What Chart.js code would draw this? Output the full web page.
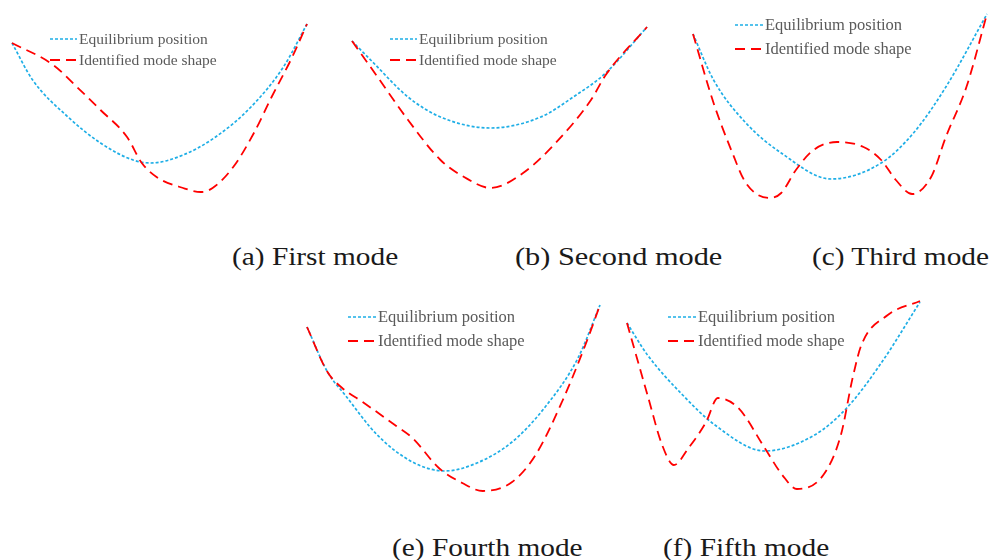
<!DOCTYPE html>
<html>
<head>
<meta charset="utf-8">
<script src="https://cdn.jsdelivr.net/npm/chart.js@4/dist/chart.umd.min.js"></script>
<style>
  html, body { margin:0; padding:0; background:#fff; width:989px; height:560px; overflow:hidden; }
  .panel { position:absolute; }
  .cap { position:absolute; font-family:"Liberation Serif","Times New Roman",serif; font-size:25.5px; color:#1a1a1a; white-space:nowrap; line-height:30px; transform-origin:0 50%; transform:scaleX(1.15); }
</style>
</head>
<body>
<canvas id="pa" class="panel" width="305" height="230" style="left:7px;top:0px"></canvas>
<canvas id="pb" class="panel" width="305" height="230" style="left:347px;top:0px"></canvas>
<canvas id="pc" class="panel" width="304" height="230" style="left:688px;top:0px"></canvas>
<canvas id="pe" class="panel" width="303" height="220" style="left:302px;top:290px"></canvas>
<canvas id="pf" class="panel" width="303" height="220" style="left:622px;top:290px"></canvas>
<div class="cap" id="ca" style="left:232px;top:242px"></div>
<div class="cap" id="cb" style="left:515px;top:242px;transform:scaleX(1.19)"></div>
<div class="cap" id="cc" style="left:812px;top:242px"></div>
<div class="cap" id="ce" style="left:392px;top:533px"></div>
<div class="cap" id="cf" style="left:663px;top:533px"></div>
<script>
// ---- Data (x: % of span, y: vertical position relative to right support) ----
const seriesLabels = ['Equilibrium position', 'Identified mode shape'];
const captions = ['(a) First mode', '(b) Second mode', '(c) Third mode', '(e) Fourth mode', '(f) Fifth mode'];

const aEqX   = [0, 7, 19, 30, 41, 47, 58, 69, 81, 92, 100];
const aEqY   = [-0.19, -0.56, -0.93, -1.19, -1.36, -1.39, -1.31, -1.13, -0.83, -0.43, 0];
const aModeX = [0, 14, 22, 30, 39, 44, 49, 58, 64, 68, 75, 82, 88, 95, 100];
const aModeY = [-0.19, -0.41, -0.63, -0.86, -1.13, -1.39, -1.53, -1.64, -1.68, -1.64, -1.43, -1.09, -0.73, -0.33, 0];

const bEqX   = [0, 7, 19, 30, 47, 64, 75, 86, 100];
const bEqY   = [-0.14, -0.35, -0.70, -0.90, -1.01, -0.90, -0.70, -0.46, 0];
const bModeX = [0, 7, 19, 30, 38, 47, 58, 69, 81, 86, 100];
const bModeY = [-0.14, -0.43, -0.93, -1.33, -1.50, -1.61, -1.46, -1.16, -0.73, -0.48, 0];

const cEqX   = [0, 7, 18, 30, 47, 64, 75, 86, 100];
const cEqY   = [-0.20, -0.66, -1.09, -1.39, -1.65, -1.49, -1.19, -0.73, 0];
const cModeX = [0, 7, 13, 18, 26, 30, 35, 41, 49, 58, 64, 69, 74.5, 81, 86, 93, 100];
const cModeY = [-0.20, -0.89, -1.36, -1.69, -1.84, -1.79, -1.56, -1.36, -1.28, -1.33, -1.46, -1.66, -1.80, -1.63, -1.23, -0.73, 0];

const eEqX   = [0, 7, 13, 24, 36, 47, 58, 70, 81, 92.5, 100];
const eEqY   = [-0.22, -0.67, -0.90, -1.30, -1.57, -1.66, -1.58, -1.37, -1.03, -0.53, 0];
const eModeX = [0, 7, 12, 19, 30, 36, 45, 53, 60, 70, 78, 87, 95, 100];
const eModeY = [-0.22, -0.67, -0.83, -0.97, -1.20, -1.33, -1.63, -1.78, -1.86, -1.77, -1.50, -0.97, -0.40, 0];

const fEqX   = [0, 7, 19, 30, 47, 64, 75, 87, 100];
const fEqY   = [-0.21, -0.53, -0.93, -1.23, -1.49, -1.33, -1.06, -0.60, 0];
const fModeX = [0, 7, 12, 16, 21, 27, 31, 38, 47, 53, 58, 67, 73, 77, 80, 89, 100];
const fModeY = [-0.21, -0.93, -1.43, -1.63, -1.46, -1.20, -0.96, -1.06, -1.46, -1.73, -1.87, -1.73, -1.33, -0.76, -0.43, -0.13, 0.01];

// ---- Styling ----
const EQ_COLOR = '#1eaee6';
const MODE_COLOR = '#ff0000';

const lineLegend = {
  id: 'lineLegend',
  afterDatasetsDraw(chart, args, o) {
    const ctx = chart.ctx;
    ctx.save();
    chart.data.datasets.forEach((ds, i) => {
      const y = o.y + i * o.gap;
      ctx.strokeStyle = ds.borderColor;
      ctx.lineWidth = ds.borderWidth;
      ctx.setLineDash(ds.borderDash || []);
      ctx.beginPath();
      ctx.moveTo(o.x, y);
      ctx.lineTo(o.x + o.len, y);
      ctx.stroke();
      ctx.setLineDash([]);
      ctx.fillStyle = '#5a5a5a';
      ctx.font = o.size + 'px "Liberation Serif", "Times New Roman", serif';
      ctx.textBaseline = 'middle';
      ctx.textAlign = 'left';
      ctx.fillText(ds.label, o.x + o.len + 2, y + 1);
    });
    ctx.restore();
  }
};

function pts(xs, ys) { return xs.map((x, i) => ({ x: x, y: ys[i] })); }

function makePanel(id, eqX, eqY, mX, mY, yMin, yMax, leg) {
  new Chart(document.getElementById(id), {
    type: 'line',
    data: {
      datasets: [
        { label: seriesLabels[0], data: pts(eqX, eqY), borderColor: EQ_COLOR, borderWidth: 1.7,
          borderDash: [3, 2], pointRadius: 0, cubicInterpolationMode: 'monotone', fill: false, clip: false, order: 1 },
        { label: seriesLabels[1], data: pts(mX, mY), borderColor: MODE_COLOR, borderWidth: 1.8,
          borderDash: [10, 6], pointRadius: 0, cubicInterpolationMode: 'monotone', fill: false, clip: false, order: 0 }
      ]
    },
    options: {
      responsive: false, animation: false, devicePixelRatio: 1,
      layout: { padding: { left: 5, right: 5, top: 0, bottom: 0 } },
      scales: {
        x: { type: 'linear', min: 0, max: 100, display: false },
        y: { type: 'linear', min: yMin, max: yMax, display: false }
      },
      plugins: { legend: { display: false }, tooltip: { enabled: false }, lineLegend: leg }
    },
    plugins: [lineLegend]
  });
}

makePanel('pa', aEqX, aEqY, aModeX, aModeY, -2.06, 0.24, { x: 43, y: 39, gap: 21, len: 27, size: 15.5 });
makePanel('pb', bEqX, bEqY, bModeX, bModeY, -2.03, 0.27, { x: 43, y: 39, gap: 21, len: 27, size: 15.5 });
makePanel('pc', cEqX, cEqY, cModeX, cModeY, -2.16, 0.14, { x: 47, y: 25, gap: 24, len: 28, size: 16.5 });
makePanel('pe', eEqX, eEqY, eModeX, eModeY, -2.05, 0.15, { x: 46, y: 27, gap: 24, len: 28, size: 16.5 });
makePanel('pf', fEqX, fEqY, fModeX, fModeY, -2.08, 0.12, { x: 46, y: 27, gap: 24, len: 28, size: 16.5 });

['ca', 'cb', 'cc', 'ce', 'cf'].forEach((id, i) => { document.getElementById(id).textContent = captions[i]; });
</script>
</body>
</html>
